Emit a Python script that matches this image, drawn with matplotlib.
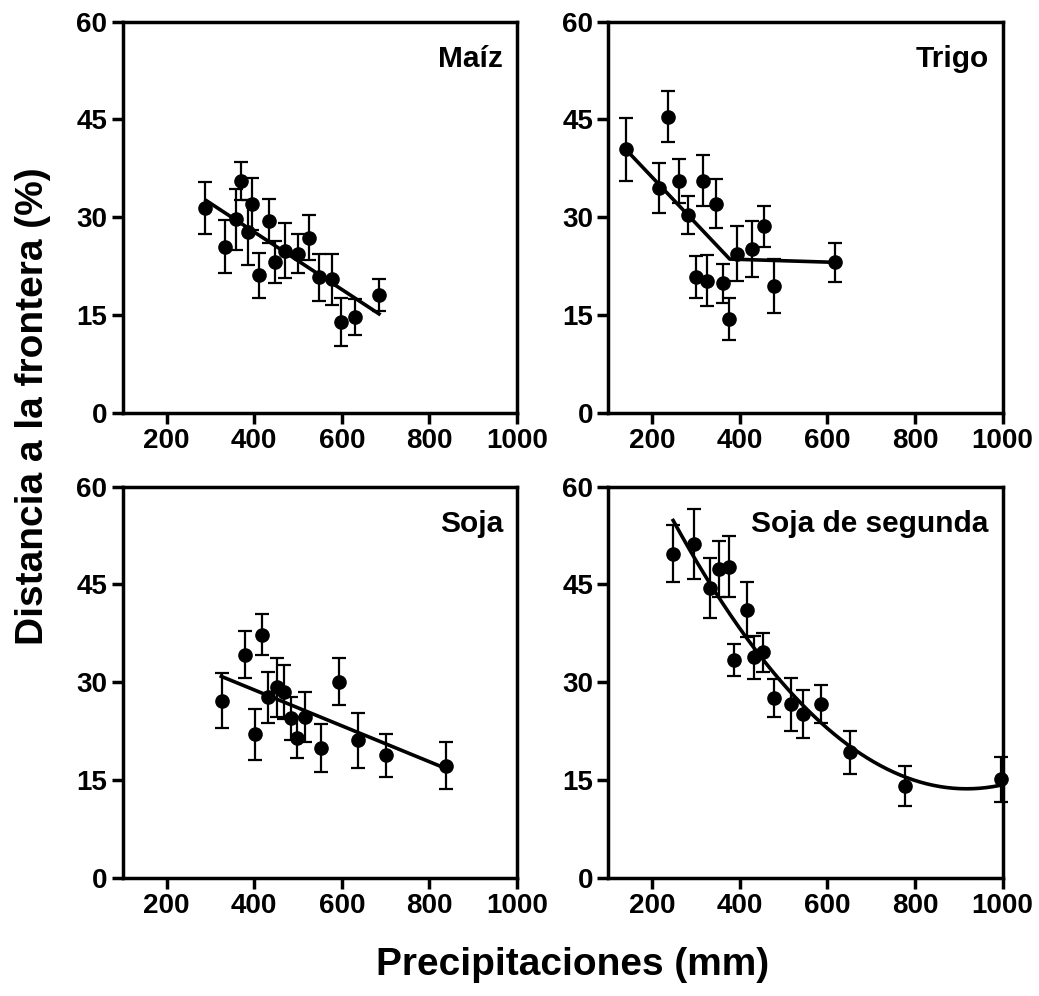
import numpy as np
import matplotlib.pyplot as plt

plt.rcParams['font.family'] = ['Liberation Sans', 'DejaVu Sans']
plt.rcParams['font.weight'] = 'bold'

# Maiz
maiz_x = [287, 370, 334, 359, 395, 385, 433, 410, 447, 470, 501, 525, 547, 577, 599, 631, 685]
maiz_y = [31.4, 35.6, 25.5, 29.7, 32.0, 27.7, 29.4, 21.1, 23.1, 24.9, 24.4, 26.9, 20.8, 20.5, 14.0, 14.7, 18.1]
maiz_e = [4.0, 2.9, 4.1, 4.7, 4.0, 5.0, 3.4, 3.5, 3.2, 4.2, 3.0, 3.4, 3.6, 3.9, 3.7, 2.8, 2.4]
maiz_fit_x = [290, 685]
maiz_fit_y = [32.6, 15.2]

# Trigo
trigo_x = [140, 236, 216, 261, 282, 301, 315, 326, 346, 362, 376, 393, 427, 455, 478, 618]
trigo_y = [40.4, 45.4, 34.5, 35.6, 30.4, 20.9, 35.6, 20.3, 32.1, 19.9, 14.4, 24.4, 25.2, 28.6, 19.5, 23.1]
trigo_e = [4.8, 3.9, 3.8, 3.4, 2.9, 3.2, 3.9, 3.9, 3.7, 3.0, 3.2, 4.2, 4.3, 3.2, 4.1, 3.0]
trigo_fit_x = [140, 377, 618]
trigo_fit_y = [40.4, 23.6, 23.1]

# Soja
soja_x = [327, 378, 401, 418, 431, 453, 469, 484, 497, 517, 553, 594, 638, 700, 837]
soja_y = [27.2, 34.2, 22.0, 37.3, 27.7, 29.2, 28.5, 24.5, 21.5, 24.7, 19.9, 30.1, 21.1, 18.8, 17.2]
soja_e = [4.2, 3.6, 3.9, 3.1, 3.9, 4.5, 4.2, 3.3, 3.1, 3.8, 3.7, 3.6, 4.2, 3.3, 3.6]
soja_fit_x = [325, 837]
soja_fit_y = [30.9, 16.8]

# Soja de segunda
soja2_x = [248, 296, 332, 353, 375, 416, 387, 433, 452, 477, 517, 544, 586, 652, 777, 996]
soja2_y = [49.7, 51.2, 44.4, 47.3, 47.7, 41.1, 33.4, 33.8, 34.6, 27.6, 26.6, 25.1, 26.7, 19.3, 14.1, 15.1]
soja2_e = [4.4, 5.3, 4.6, 4.3, 4.7, 4.2, 2.5, 3.3, 3.0, 2.9, 4.1, 3.7, 2.9, 3.3, 3.0, 3.4]

fig = plt.figure(figsize=(10.39, 9.96), dpi=100)
lefts = [0.1181, 0.5855]
bottoms = [0.5853, 0.1185]
w, h = 0.3795, 0.3930

panels = [
    ('Maíz', maiz_x, maiz_y, maiz_e, 0, 0),
    ('Trigo', trigo_x, trigo_y, trigo_e, 1, 0),
    ('Soja', soja_x, soja_y, soja_e, 0, 1),
    ('Soja de segunda', soja2_x, soja2_y, soja2_e, 1, 1),
]

axes = []
for name, xs, ys, es, c, r in panels:
    ax = fig.add_axes([lefts[c], bottoms[r], w, h])
    ax.errorbar(xs, ys, yerr=es, fmt='o', color='black', ms=9.5,
                elinewidth=1.6, capsize=5, capthick=1.6, clip_on=False, zorder=3)
    ax.set_xlim(100, 1000)
    ax.set_ylim(0, 60)
    ax.set_xticks([200, 400, 600, 800, 1000])
    ax.set_yticks([0, 15, 30, 45, 60])
    for s in ax.spines.values():
        s.set_linewidth(2.5)
    ax.tick_params(direction='out', length=8, width=2.5, labelsize=20, pad=3)
    for lab in ax.get_xticklabels() + ax.get_yticklabels():
        lab.set_fontweight('bold')
    ax.text(0.965, 0.905, name, transform=ax.transAxes, ha='right', va='center',
            fontsize=21.5, fontweight='bold')
    axes.append(ax)

axes[0].plot(maiz_fit_x, maiz_fit_y, color='black', lw=2.6, zorder=2)
axes[1].plot(trigo_fit_x, trigo_fit_y, color='black', lw=2.6, zorder=2)
axes[2].plot(soja_fit_x, soja_fit_y, color='black', lw=2.6, zorder=2)

coef = np.polyfit(soja2_x, soja2_y, 2)
xx = np.linspace(min(soja2_x), max(soja2_x), 200)
axes[3].plot(xx, np.polyval(coef, xx), color='black', lw=2.6, zorder=2)

fig.text(0.032, 0.592, 'Distancia a la frontera (%)', rotation=90, ha='center', va='center',
         fontsize=28, fontweight='bold')
fig.text(0.551, 0.031, 'Precipitaciones (mm)', ha='center', va='center',
         fontsize=28, fontweight='bold')

fig.savefig('out.png', dpi=100)
